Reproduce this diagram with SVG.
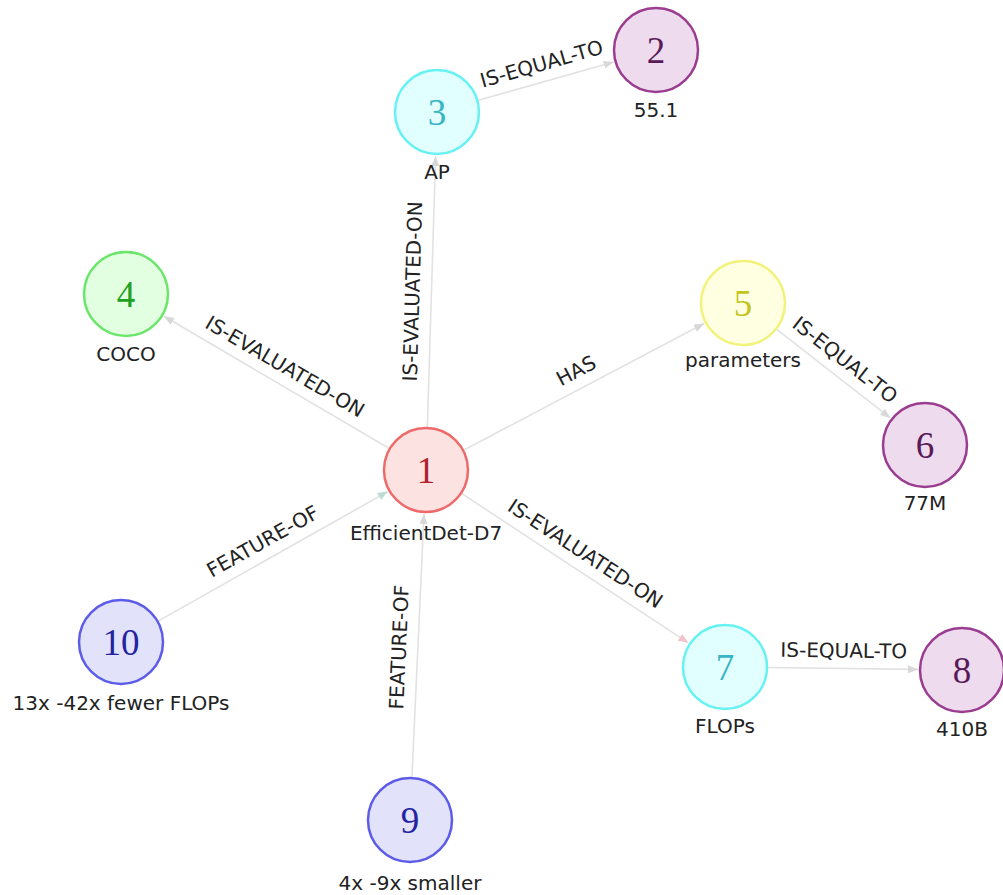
<svg xmlns="http://www.w3.org/2000/svg" width="1003" height="895" viewBox="0 0 1003 895">
<style>
.edge{stroke:#e2e2e2;stroke-width:1.6;fill:none}
.el{font-family:"DejaVu Sans",sans-serif;font-size:20px;fill:#222;text-anchor:middle}
.nl{font-family:"DejaVu Sans",sans-serif;font-size:20px;fill:#222;text-anchor:middle}
.num{font-family:"Liberation Serif",serif;font-size:37px;text-anchor:middle;dominant-baseline:central}
.n circle{stroke-width:2.5}
.red circle{fill:#fde2e2;stroke:#ee6a6a}.red .num{fill:#b0202a}
.pur circle{fill:#eedcee;stroke:#9a3c90}.pur .num{fill:#5a1a58}
.cyan circle{fill:#e2ffff;stroke:#66f2f2}.cyan .num{fill:#38b4c4}
.grn circle{fill:#e2ffe2;stroke:#6ae66a}.grn .num{fill:#22a022}
.yel circle{fill:#ffffe2;stroke:#f2f27a}.yel .num{fill:#c4c420}
.blu circle{fill:#e2e2fa;stroke:#5c5ce8}.blu .num{fill:#2424a0}
</style>
<defs>
<marker id="ah" markerUnits="userSpaceOnUse" markerWidth="11" markerHeight="9" refX="10" refY="4" orient="auto"><path d="M0,0 L10,4 L0,8 z" fill="#d8d8d8"/></marker>
<marker id="ahp" markerUnits="userSpaceOnUse" markerWidth="11" markerHeight="9" refX="10" refY="4" orient="auto"><path d="M0,0 L10,4 L0,8 z" fill="#efc4cc"/></marker>
<marker id="ahg" markerUnits="userSpaceOnUse" markerWidth="11" markerHeight="9" refX="10" refY="4" orient="auto"><path d="M0,0 L10,4 L0,8 z" fill="#bcdcd6"/></marker>
</defs>
<rect width="1003" height="895" fill="#ffffff"/>
<g id="connectors">
<line class="edge" x1="477.4" y1="100.6" x2="613.7" y2="62.0" marker-end="url(#ah)"/>
<line class="edge" x1="427.3" y1="428.0" x2="435.6" y2="156.0" marker-end="url(#ah)"/>
<line class="edge" x1="389.8" y1="448.7" x2="164.0" y2="316.3" marker-end="url(#ah)"/>
<line class="edge" x1="463.2" y1="450.4" x2="704.1" y2="323.5" marker-end="url(#ah)"/>
<line class="edge" x1="776.1" y1="328.8" x2="890.3" y2="417.9" marker-end="url(#ah)"/>
<line class="edge" x1="461.1" y1="493.1" x2="688.3" y2="642.8" marker-end="url(#ahp)"/>
<line class="edge" x1="767" y1="667.5" x2="918" y2="669.4" marker-end="url(#ah)"/>
<line class="edge" x1="157.6" y1="621.4" x2="387.7" y2="491.6" marker-end="url(#ahg)"/>
<line class="edge" x1="411.9" y1="778.0" x2="424.0" y2="514.0" marker-end="url(#ah)"/>
<text class="el" transform="translate(546.5,81) rotate(-15.8)" y="-11">IS-EQUAL-TO</text>
<text class="el" transform="translate(431.5,292) rotate(-88.24)" y="-12">IS-EVALUATED-ON</text>
<text class="el" transform="translate(276,382) rotate(30.4)" y="-11">IS-EVALUATED-ON</text>
<text class="el" transform="translate(584.5,386.5) rotate(-27.8)" y="-11">HAS</text>
<text class="el" transform="translate(834,374) rotate(38)" y="-11">IS-EQUAL-TO</text>
<text class="el" transform="translate(575.5,568.5) rotate(33.4)" y="-11">IS-EVALUATED-ON</text>
<text class="el" transform="translate(843.5,668.5) rotate(0.7)" y="-11">IS-EQUAL-TO</text>
<text class="el" transform="translate(271.5,557) rotate(-29.4)" y="-11">FEATURE-OF</text>
<text class="el" transform="translate(418,648) rotate(-87.4)" y="-12">FEATURE-OF</text>
</g>
<g id="node1" class="n red"><circle cx="426" cy="470" r="42"/><text class="num" x="426" y="470">1</text><text class="nl" x="426" y="540">EfficientDet-D7</text></g>
<g id="node2" class="n pur"><circle cx="656" cy="50" r="42"/><text class="num" x="656" y="50">2</text><text class="nl" x="656" y="117">55.1</text></g>
<g id="node3" class="n cyan"><circle cx="437" cy="112" r="42"/><text class="num" x="437" y="112">3</text><text class="nl" x="437" y="179">AP</text></g>
<g id="node4" class="n grn"><circle cx="126" cy="294" r="42"/><text class="num" x="126" y="294">4</text><text class="nl" x="126" y="361">COCO</text></g>
<g id="node5" class="n yel"><circle cx="743" cy="303" r="42"/><text class="num" x="743" y="303">5</text><text class="nl" x="743" y="367">parameters</text></g>
<g id="node6" class="n pur"><circle cx="925" cy="445" r="42"/><text class="num" x="925" y="445">6</text><text class="nl" x="925" y="510">77M</text></g>
<g id="node7" class="n cyan"><circle cx="725" cy="667" r="42"/><text class="num" x="725" y="667">7</text><text class="nl" x="725" y="733">FLOPs</text></g>
<g id="node8" class="n pur"><circle cx="962" cy="670" r="42"/><text class="num" x="962" y="670">8</text><text class="nl" x="962" y="736">410B</text></g>
<g id="node9" class="n blu"><circle cx="410" cy="820" r="42"/><text class="num" x="410" y="820">9</text><text class="nl" x="410" y="890">4x -9x smaller</text></g>
<g id="node10" class="n blu"><circle cx="121" cy="642" r="42"/><text class="num" x="121" y="642">10</text><text class="nl" x="121" y="710">13x -42x fewer FLOPs</text></g>
</svg>
